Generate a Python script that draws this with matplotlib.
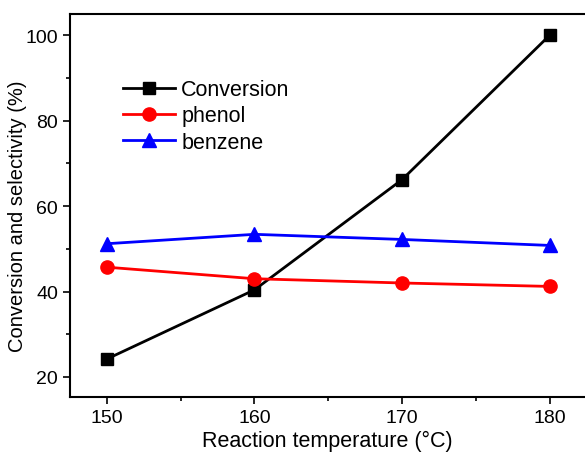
import numpy as np
import matplotlib
matplotlib.use('Agg')
import matplotlib.pyplot as plt
from matplotlib.ticker import MultipleLocator

plt.rcParams['font.family'] = ['Liberation Sans', 'DejaVu Sans']

temperature = [150, 160, 170, 180]
conversion = [24.2, 40.4, 66.2, 100.0]
phenol = [45.7, 43.0, 42.0, 41.2]
benzene = [51.2, 53.4, 52.2, 50.8]

fig = plt.figure(figsize=(5.85, 4.56), dpi=100)
ax = fig.add_axes([0.1197, 0.1272, 0.8803, 0.8399])

ax.plot(temperature, conversion, '-s', color='black', lw=2, ms=8.5, label='Conversion')
ax.plot(temperature, phenol, '-o', color='red', lw=2, ms=9.5, label='phenol')
ax.plot(temperature, benzene, '-^', color='blue', lw=2, ms=9.5, label='benzene')

ax.set_xlim(147.5, 182.4)
ax.set_ylim(15.3, 105)
ax.xaxis.set_major_locator(MultipleLocator(10))
ax.xaxis.set_minor_locator(MultipleLocator(5))
ax.yaxis.set_major_locator(MultipleLocator(20))
ax.yaxis.set_minor_locator(MultipleLocator(10))
ax.tick_params(which='major', direction='out', length=5, width=1.2, labelsize=14)
ax.tick_params(which='minor', direction='out', length=3, width=1.2)
ax.spines['right'].set_visible(False)
for s in ['left', 'bottom', 'top']:
    ax.spines[s].set_linewidth(1.5)

ax.set_xlabel('Reaction temperature (°C)', fontsize=15.5, labelpad=3)
ax.set_ylabel('Conversion and selectivity (%)', fontsize=14.5)
ax.yaxis.set_label_coords(-0.083, 0.475)

ax.legend(loc='upper left', bbox_to_anchor=(0.103, 0.83), frameon=False,
          fontsize=15.5, handlelength=2.4, handletextpad=0.3,
          labelspacing=0.25, borderaxespad=0, borderpad=0)

fig.savefig('out.png', dpi=100)
